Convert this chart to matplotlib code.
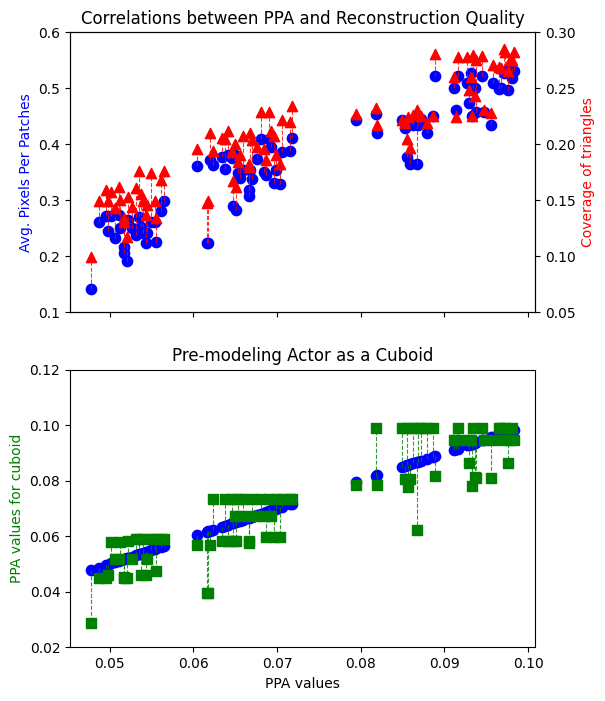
import numpy as np
from matplotlib import pyplot as plt

# PPA value of each actor (shared x)
ppa = [0.0478, 0.0487, 0.0496, 0.0498, 0.0502, 0.0507, 0.0511, 0.0513, 0.0517, 0.0517,
       0.0521, 0.0522, 0.0527, 0.0531, 0.0535, 0.0537, 0.0540, 0.0543, 0.0545, 0.0549,
       0.0554, 0.0556, 0.0561, 0.0565,
       0.0605, 0.0617, 0.0618, 0.0620, 0.0623, 0.0634, 0.0638, 0.0641, 0.0646, 0.0648,
       0.0650, 0.0651, 0.0654, 0.0656, 0.0660, 0.0666, 0.0667, 0.0668, 0.0670, 0.0676,
       0.0681, 0.0684, 0.0687, 0.0691, 0.0693, 0.0697, 0.0699, 0.0704, 0.0706, 0.0715,
       0.0718,
       0.0795, 0.0818, 0.0820,
       0.0849, 0.0853, 0.0855, 0.0857, 0.0859, 0.0863, 0.0867, 0.0869, 0.0872, 0.0879,
       0.0886, 0.0889,
       0.0911, 0.0914, 0.0916, 0.0927, 0.0930, 0.0932, 0.0933, 0.0934, 0.0936, 0.0938,
       0.0945, 0.0947, 0.0956, 0.0958, 0.0965, 0.0968, 0.0971, 0.0973, 0.0976, 0.0978,
       0.0981, 0.0983]

# average pixels per patch (left axis, top)
ppp = [0.141, 0.262, 0.272, 0.246, 0.272, 0.233, 0.274, 0.250, 0.217, 0.206,
       0.192, 0.265, 0.250, 0.238, 0.271, 0.253, 0.241, 0.223, 0.241, 0.262,
       0.262, 0.226, 0.281, 0.298,
       0.361, 0.223, 0.223, 0.372, 0.363, 0.378, 0.356, 0.380, 0.375, 0.289,
       0.381, 0.283, 0.348, 0.339, 0.354, 0.318, 0.308, 0.354, 0.338, 0.373,
       0.409, 0.351, 0.345, 0.409, 0.395, 0.331, 0.354, 0.329, 0.387, 0.388,
       0.411,
       0.443, 0.454, 0.420,
       0.443, 0.429, 0.378, 0.440, 0.365, 0.434, 0.365, 0.434, 0.445, 0.420,
       0.451, 0.522,
       0.500, 0.461, 0.521, 0.509, 0.474, 0.528, 0.451, 0.500, 0.500, 0.458,
       0.522, 0.458, 0.434, 0.510, 0.498, 0.500, 0.527, 0.530, 0.497, 0.530,
       0.518, 0.530]

# coverage of triangles (right axis, top)
coverage = [0.099, 0.149, 0.159, 0.149, 0.157, 0.143, 0.162, 0.150, 0.134, 0.131,
            0.117, 0.153, 0.144, 0.161, 0.176, 0.156, 0.149, 0.137, 0.146, 0.174,
            0.149, 0.134, 0.168, 0.176,
            0.196, 0.148, 0.149, 0.210, 0.194, 0.206, 0.205, 0.212, 0.193, 0.167,
            0.200, 0.162, 0.184, 0.190, 0.207, 0.182, 0.180, 0.210, 0.204, 0.198,
            0.229, 0.196, 0.186, 0.229, 0.212, 0.207, 0.190, 0.182, 0.222, 0.220,
            0.234,
            0.227, 0.232, 0.217,
            0.222, 0.219, 0.205, 0.224, 0.197, 0.226, 0.231, 0.228, 0.225, 0.219,
            0.225, 0.281,
            0.260, 0.224, 0.278, 0.278, 0.248, 0.260, 0.225, 0.280, 0.243, 0.275,
            0.279, 0.231, 0.228, 0.271, 0.269, 0.268, 0.285, 0.282, 0.265, 0.275,
            0.275, 0.282]

# PPA values when the actor is modelled as a cuboid (bottom)
cuboid = [0.0286, 0.0449, 0.0449, 0.0460, 0.0580, 0.0518, 0.0518, 0.0580, 0.0449, 0.0455,
          0.0449, 0.0583, 0.0518, 0.0590, 0.0590, 0.0460, 0.0590, 0.0460, 0.0518, 0.0590,
          0.0590, 0.0476, 0.0590, 0.0590,
          0.0569, 0.0395, 0.0395, 0.0569, 0.0733, 0.0583, 0.0733, 0.0583, 0.0733, 0.0583,
          0.0673, 0.0583, 0.0733, 0.0673, 0.0733, 0.0576, 0.0583, 0.0673, 0.0733, 0.0673,
          0.0733, 0.0673, 0.0598, 0.0733, 0.0673, 0.0598, 0.0733, 0.0598, 0.0733, 0.0733,
          0.0733,
          0.0785, 0.0989, 0.0785,
          0.0989, 0.0805, 0.0989, 0.0779, 0.0805, 0.0989, 0.0623, 0.0989, 0.0989, 0.0989,
          0.0989, 0.0817,
          0.0947, 0.0947, 0.0989, 0.0947, 0.0863, 0.0947, 0.0781, 0.0989, 0.0815, 0.0809,
          0.0989, 0.0947, 0.0809, 0.0947, 0.0989, 0.0989, 0.0947, 0.0989, 0.0863, 0.0947,
          0.0989, 0.0947]

x = np.array(ppa)
ppp = np.array(ppp)
coverage = np.array(coverage)
cuboid = np.array(cuboid)

fig = plt.figure(figsize=(6.05, 7.01), dpi=100)
ax1 = fig.add_axes([0.1157, 0.5545, 0.7686, 0.3995])
ax3 = fig.add_axes([0.1157, 0.0766, 0.7686, 0.396], sharex=ax1)

#------------ top: ppp vs coverage
ax1.scatter(x, ppp, color='blue', s=55, zorder=2)
ax1.set_ylim(0.1, 0.6)
ax1.set_ylabel('Avg. Pixels Per Patches', color='blue')
ax1.set_title('Correlations between PPA and Reconstruction Quality')
ax1.tick_params(labelbottom=False)

ax2 = ax1.twinx()
ax2.set_ylim(0.05, 0.30)
# right axis is left axis / 2, so the blue point sits at ppp/2 there
ax2.vlines(x, ppp / 2, coverage, colors='red', linestyles='--', linewidth=0.8, alpha=0.8)
ax2.scatter(x, coverage, color='red', marker='^', s=55, zorder=3)
ax2.set_ylabel('Coverage of triangles', color='red')

#------------ bottom: ppa vs cuboid
ax3.scatter(x, x, color='blue', s=55, zorder=2)
ax3.vlines(x, x, cuboid, colors='green', linestyles='--', linewidth=0.8, alpha=0.8, zorder=3)
ax3.scatter(x, cuboid, color='green', marker='s', s=50, zorder=4)
ax3.set_ylim(0.02, 0.12)
ax3.set_yticks([0.02, 0.04, 0.06, 0.08, 0.10, 0.12])
ax3.set_ylabel('PPA values for cuboid', color='green')
ax3.set_xlabel('PPA values')
ax3.set_title('Pre-modeling Actor as a Cuboid')

fig.savefig('out.png', dpi=100)
